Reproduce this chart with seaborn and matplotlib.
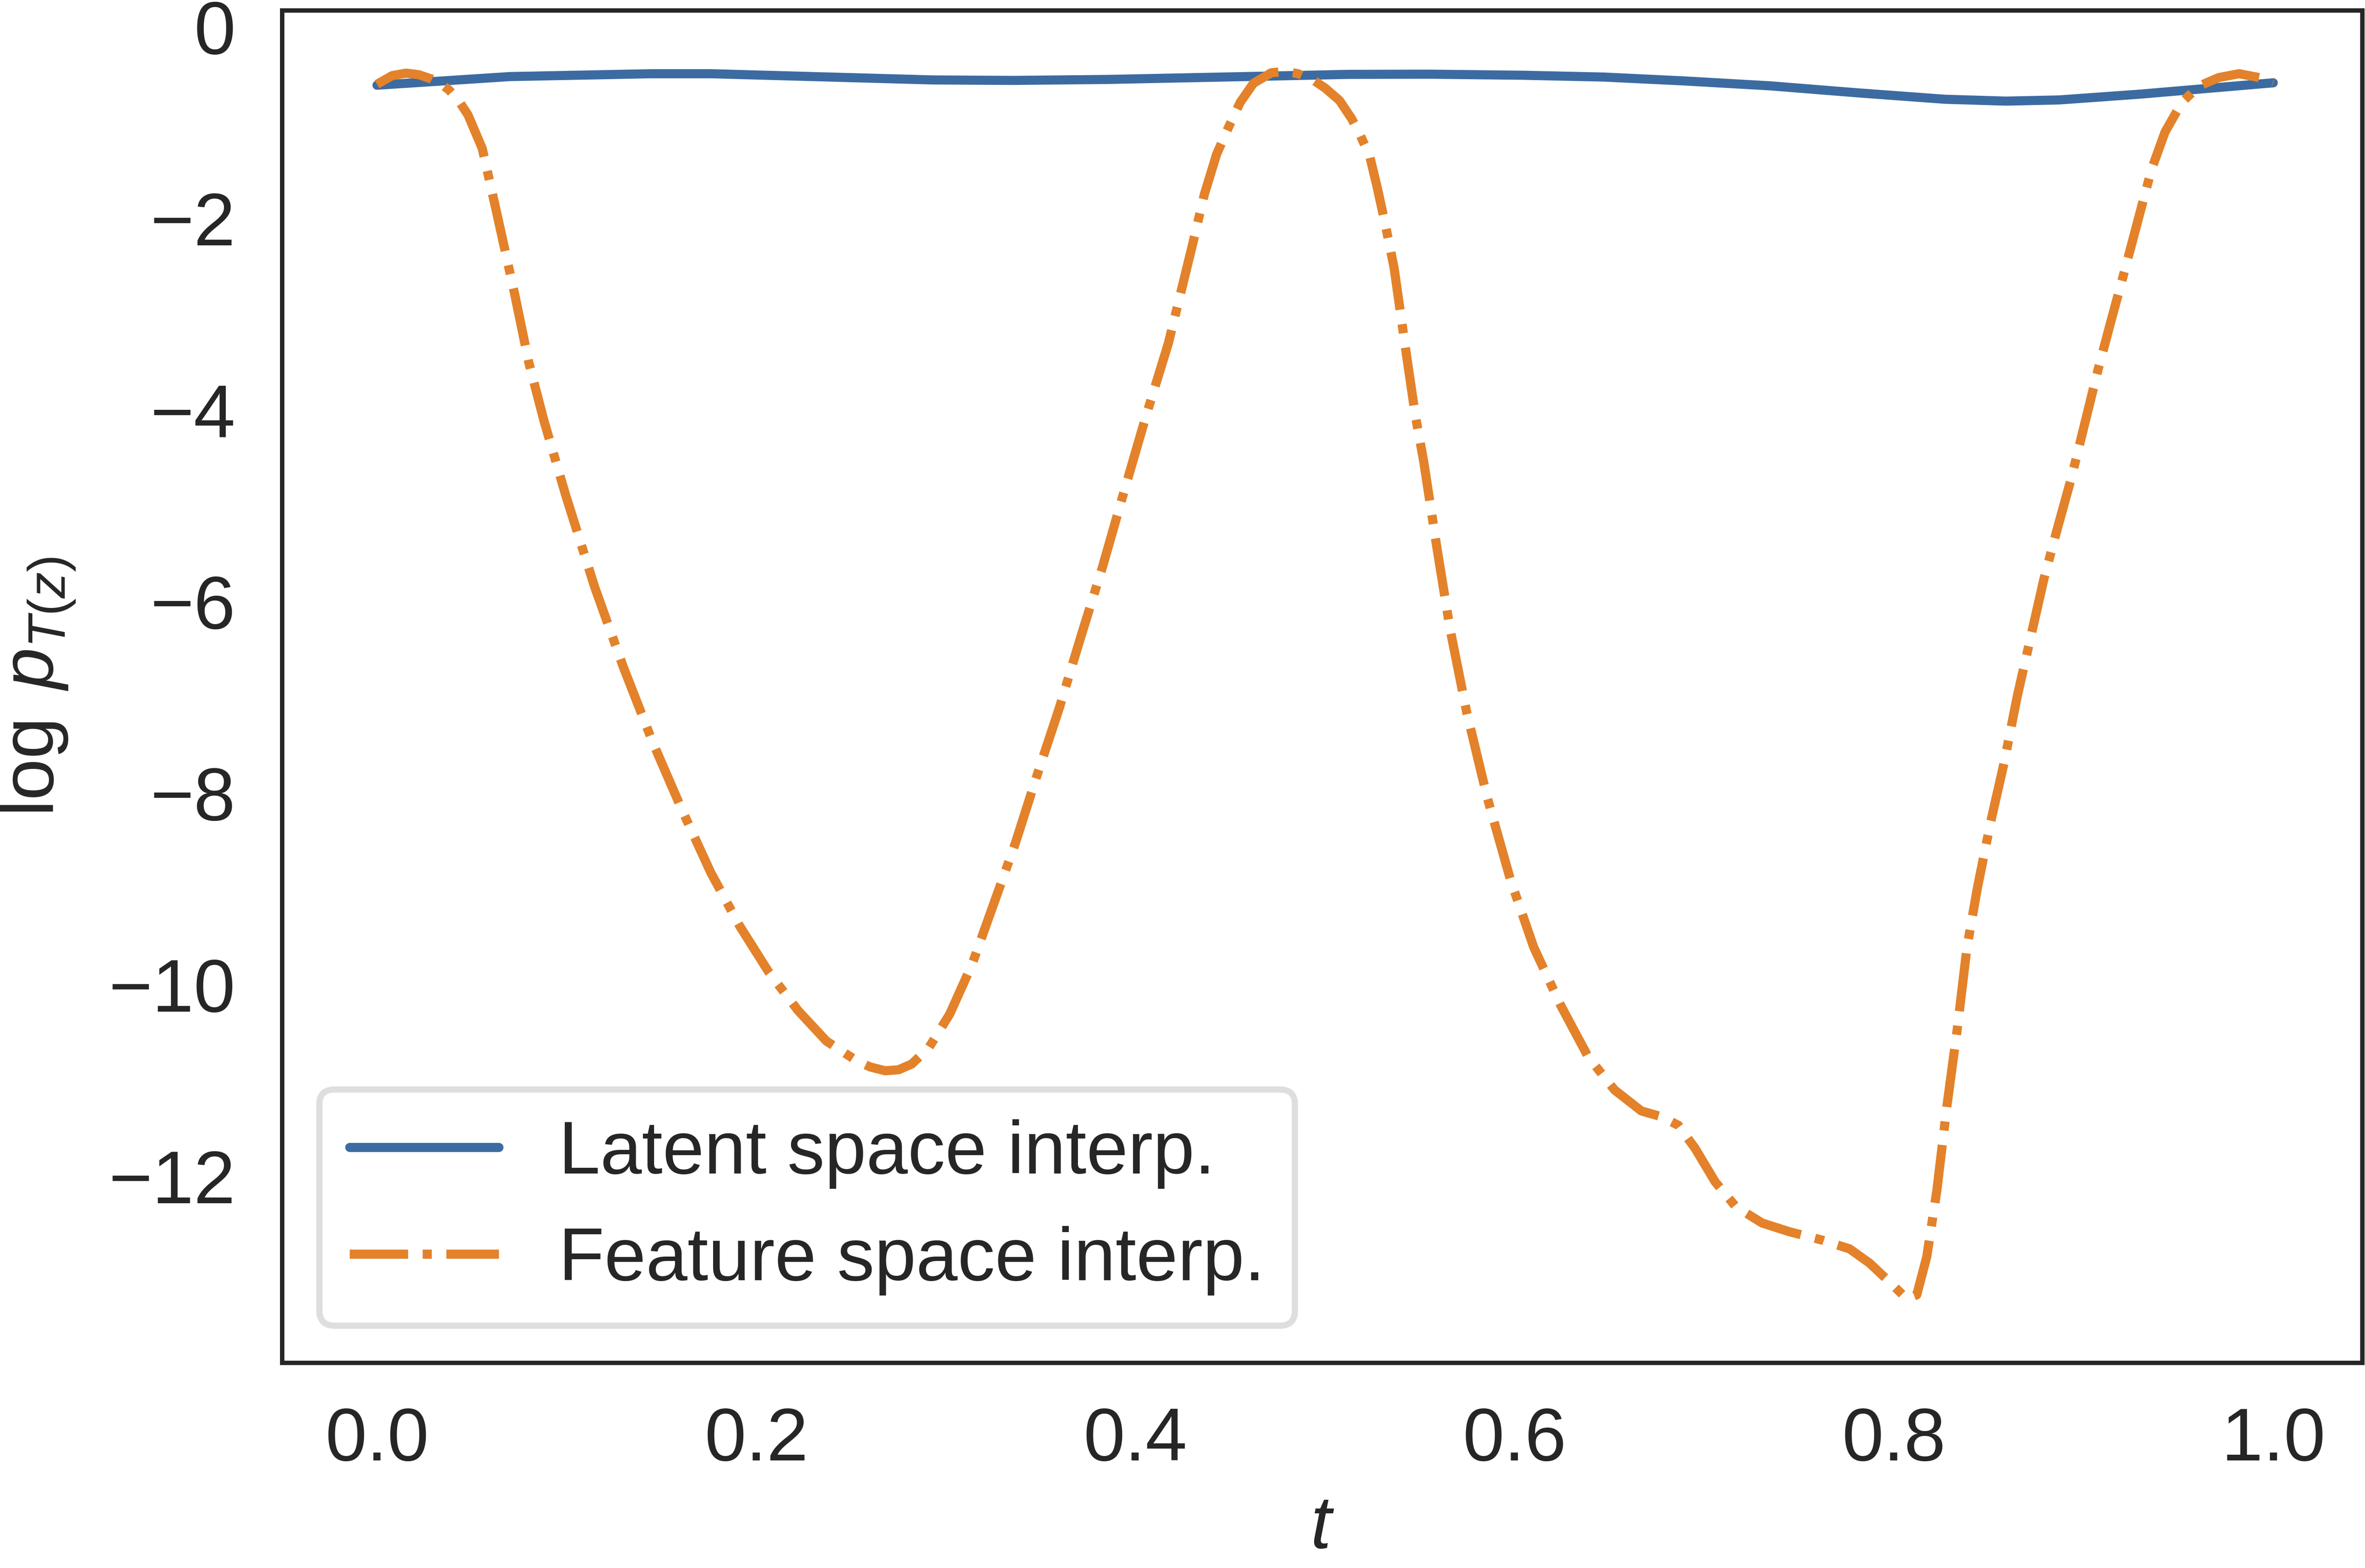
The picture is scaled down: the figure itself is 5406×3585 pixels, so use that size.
import numpy as np
import pandas as pd
import matplotlib
matplotlib.use("Agg")
import matplotlib.pyplot as plt
import seaborn as sns

# latent space interpolation (blue, solid)
t_latent = [0.0, 0.07, 0.145, 0.176, 0.293, 0.335, 0.385, 0.47, 0.512, 0.555,
            0.604, 0.647, 0.689, 0.735, 0.781, 0.827, 0.859, 0.887, 0.93, 0.965, 1.0]
logp_latent = [-0.61, -0.52, -0.49, -0.49, -0.555, -0.56, -0.55, -0.515, -0.497, -0.495,
               -0.506, -0.525, -0.565, -0.617, -0.69, -0.757, -0.776, -0.764, -0.703, -0.644, -0.585]

# feature space interpolation (orange, dash-dot)
t_feature = [0.0, 0.008, 0.0153, 0.022, 0.0287, 0.034, 0.038, 0.043, 0.048, 0.0555,
             0.063, 0.0727, 0.08, 0.088, 0.0995, 0.1148, 0.13, 0.1454, 0.1607, 0.176,
             0.1913, 0.2066, 0.222, 0.237, 0.2525, 0.26, 0.268, 0.275, 0.282, 0.291,
             0.302, 0.3138, 0.325, 0.3367, 0.348, 0.3597, 0.371, 0.3826, 0.394, 0.4056,
             0.4174, 0.43, 0.4363, 0.4428, 0.4488, 0.4552, 0.4622, 0.4716, 0.4788, 0.4857,
             0.494, 0.5, 0.5076, 0.514, 0.5187, 0.5235, 0.5275, 0.5316, 0.5364, 0.5422,
             0.5475, 0.552, 0.5588, 0.5659, 0.5747, 0.5854, 0.5978, 0.61, 0.6243, 0.6386,
             0.6526, 0.6668, 0.6774, 0.6863, 0.6951, 0.7057, 0.7166, 0.7305, 0.7447, 0.7624,
             0.7766, 0.7872, 0.7979, 0.8067, 0.812, 0.8173, 0.8226, 0.8279, 0.8332, 0.8385,
             0.8439, 0.851, 0.858, 0.865, 0.872, 0.879, 0.886, 0.8934, 0.9005, 0.9076,
             0.9146, 0.9217, 0.9288, 0.9358, 0.9429, 0.9518, 0.9607, 0.9713, 0.982, 0.9925,
             1.0]
logp_feature = [-0.60, -0.51, -0.484, -0.50, -0.545, -0.60, -0.66, -0.77, -0.92, -1.27,
                -1.93, -2.80, -3.50, -4.11, -4.89, -5.85, -6.69, -7.47, -8.17, -8.83,
                -9.39, -9.87, -10.27, -10.59, -10.79, -10.86, -10.90, -10.89, -10.83, -10.66,
                -10.31, -9.79, -9.17, -8.52, -7.82, -7.12, -6.38, -5.64, -4.85, -4.06,
                -3.30, -2.28, -1.75, -1.33, -1.06, -0.79, -0.59, -0.48, -0.466, -0.49,
                -0.56, -0.64, -0.77, -0.96, -1.14, -1.35, -1.68, -2.05, -2.52, -3.33,
                -4.05, -4.54, -5.42, -6.29, -7.16, -8.04, -8.91, -9.61, -10.22, -10.75,
                -11.10, -11.32, -11.38, -11.47, -11.71, -12.06, -12.32, -12.49, -12.58, -12.67,
                -12.76, -12.91, -13.11, -13.28, -13.24, -12.84, -12.15, -11.27, -10.49, -9.61,
                -9.00, -8.30, -7.69, -6.99, -6.38, -5.77, -5.25, -4.72, -4.15, -3.58,
                -3.06, -2.54, -2.01, -1.49, -1.10, -0.79, -0.62, -0.53, -0.49, -0.53,
                -0.58]

x_ticks = [0.0, 0.2, 0.4, 0.6, 0.8, 1.0]
y_ticks = [0, -2, -4, -6, -8, -10, -12]

sns.set_theme(style="white")
plt.rcParams["font.family"] = ["Liberation Sans", "DejaVu Sans"]
plt.rcParams["mathtext.fontset"] = "custom"
plt.rcParams["mathtext.rm"] = "Liberation Sans"
plt.rcParams["mathtext.it"] = "Liberation Sans:italic"
plt.rcParams["axes.linewidth"] = 1.2
plt.rcParams["axes.edgecolor"] = ".15"

dpi = 600
fig = plt.figure(figsize=(5406 / dpi, 3585 / dpi), dpi=dpi)
ax = fig.add_axes([645 / 5406, 1 - 3116 / 3585, (5400 - 645) / 5406, (3116 - 24) / 3585])

latent = pd.DataFrame({"t": t_latent, "logp": logp_latent})
feature = pd.DataFrame({"t": t_feature, "logp": logp_feature})

sns.lineplot(data=latent, x="t", y="logp", ax=ax, color="#3c6ba1", lw=2.5,
             label="Latent space interp.")
sns.lineplot(data=feature, x="t", y="logp", ax=ax, color="#e3822a", lw=2.5,
             linestyle="-.", label="Feature space interp.")

ax.set_xlim(-0.05, 1.047)
ax.set_ylim(-13.95, 0.17)
ax.set_xticks(x_ticks)
ax.set_yticks(y_ticks)
ax.tick_params(axis="both", labelsize=20.5, length=0, colors=".15")
ax.tick_params(axis="x", pad=11.9)
ax.tick_params(axis="y", pad=12.8)

ax.set_xlabel("$t$", fontsize=20.5)
ax.set_ylabel(r"$\log\;p_{T(z)}$", fontsize=20.5)
ax.xaxis.set_label_coords(0.5, -0.0967)
ax.yaxis.set_label_coords(-0.0985, 0.5)

leg = ax.legend(loc="lower left", fontsize=20.5, frameon=True, fancybox=True)
leg.get_frame().set_edgecolor("#d6d6d6")
leg.get_frame().set_linewidth(1.7)

fig.savefig("out.png", dpi=dpi)
